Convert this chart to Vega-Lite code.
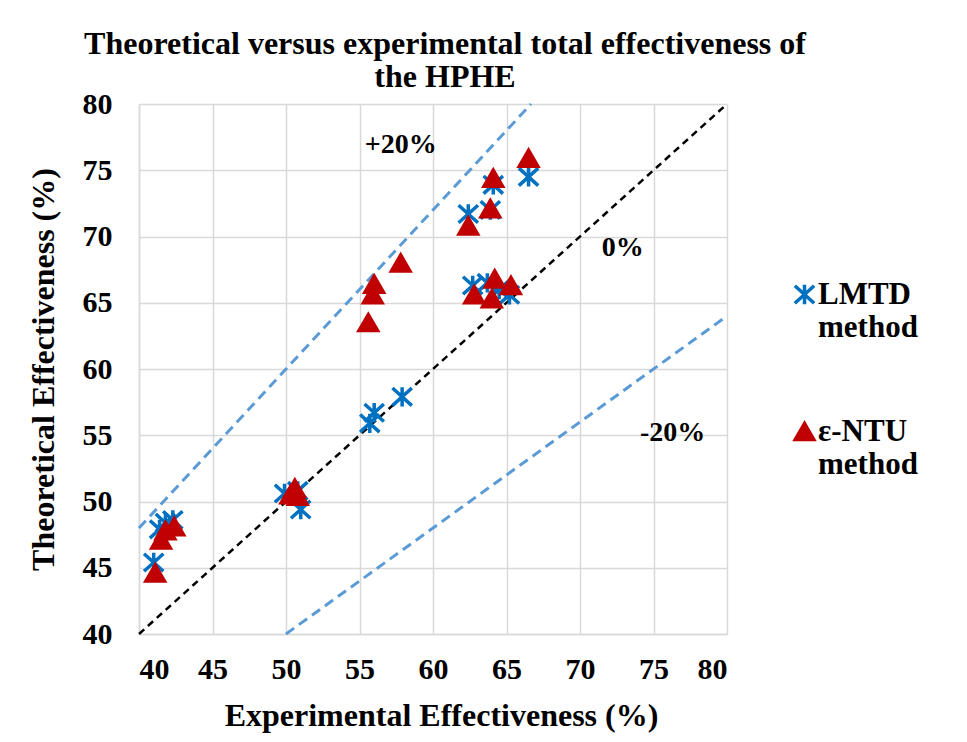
{
  "$schema": "https://vega.github.io/schema/vega-lite/v6.json",
  "autosize": "none",
  "width": 588,
  "height": 530,
  "padding": {"left": 139, "top": 104, "right": 240, "bottom": 108},
  "background": "white",
  "config": {
    "font": "Liberation Serif",
    "view": {"stroke": null},
    "axis": {
      "labelFont": "Liberation Serif",
      "labelFontWeight": "bold",
      "labelFontSize": 30,
      "labelColor": "black",
      "titleFont": "Liberation Serif",
      "titleFontWeight": "bold",
      "titleColor": "black",
      "gridColor": "#D9D9D9",
      "gridWidth": 1.5,
      "domainColor": "#D9D9D9",
      "domainWidth": 1.5,
      "ticks": false
    },
    "legend": {
      "labelFont": "Liberation Serif",
      "labelFontWeight": "bold",
      "labelFontSize": 31,
      "labelColor": "black",
      "labelLimit": 300
    }
  },
  "title": {
    "text": ["Theoretical versus experimental total effectiveness of", "the HPHE"],
    "font": "Liberation Serif",
    "fontSize": 32,
    "fontWeight": "bold",
    "color": "black",
    "anchor": "middle",
    "dx": 12,
    "offset": -5,
    "lineHeight": 33
  },
  "datasets": {
    "points": [
      {"exp": 41.0, "theo": 45.4, "method": "LMTD method"},
      {"exp": 41.4, "theo": 47.9, "method": "LMTD method"},
      {"exp": 41.8, "theo": 48.4, "method": "LMTD method"},
      {"exp": 42.3, "theo": 48.6, "method": "LMTD method"},
      {"exp": 49.9, "theo": 50.6, "method": "LMTD method"},
      {"exp": 50.8, "theo": 50.8, "method": "LMTD method"},
      {"exp": 51.0, "theo": 49.4, "method": "LMTD method"},
      {"exp": 55.7, "theo": 55.9, "method": "LMTD method"},
      {"exp": 56.0, "theo": 56.7, "method": "LMTD method"},
      {"exp": 57.9, "theo": 57.9, "method": "LMTD method"},
      {"exp": 62.4, "theo": 71.7, "method": "LMTD method"},
      {"exp": 63.9, "theo": 72.0, "method": "LMTD method"},
      {"exp": 64.1, "theo": 73.9, "method": "LMTD method"},
      {"exp": 66.5, "theo": 74.5, "method": "LMTD method"},
      {"exp": 62.7, "theo": 66.3, "method": "LMTD method"},
      {"exp": 63.7, "theo": 66.5, "method": "LMTD method"},
      {"exp": 64.5, "theo": 66.0, "method": "LMTD method"},
      {"exp": 65.2, "theo": 65.6, "method": "LMTD method"},
      {"exp": 41.1, "theo": 44.6, "method": "ε-NTU method"},
      {"exp": 41.5, "theo": 47.1, "method": "ε-NTU method"},
      {"exp": 41.8, "theo": 47.8, "method": "ε-NTU method"},
      {"exp": 42.4, "theo": 48.1, "method": "ε-NTU method"},
      {"exp": 50.3, "theo": 50.5, "method": "ε-NTU method"},
      {"exp": 50.6, "theo": 51.0, "method": "ε-NTU method"},
      {"exp": 50.8, "theo": 50.4, "method": "ε-NTU method"},
      {"exp": 55.6, "theo": 63.5, "method": "ε-NTU method"},
      {"exp": 55.9, "theo": 65.6, "method": "ε-NTU method"},
      {"exp": 56.0, "theo": 66.4, "method": "ε-NTU method"},
      {"exp": 57.8, "theo": 68.0, "method": "ε-NTU method"},
      {"exp": 62.4, "theo": 70.8, "method": "ε-NTU method"},
      {"exp": 63.9, "theo": 72.1, "method": "ε-NTU method"},
      {"exp": 64.1, "theo": 74.4, "method": "ε-NTU method"},
      {"exp": 66.5, "theo": 75.9, "method": "ε-NTU method"},
      {"exp": 62.8, "theo": 65.6, "method": "ε-NTU method"},
      {"exp": 64.0, "theo": 65.3, "method": "ε-NTU method"},
      {"exp": 64.2, "theo": 66.8, "method": "ε-NTU method"},
      {"exp": 65.3, "theo": 66.3, "method": "ε-NTU method"}
    ],
    "bands": [
      {"band": "+20%", "exp": 40, "theo": 48},
      {"band": "+20%", "exp": 66.667, "theo": 80},
      {"band": "-20%", "exp": 50, "theo": 40},
      {"band": "-20%", "exp": 80, "theo": 64}
    ],
    "parity": [
      {"exp": 40, "theo": 40},
      {"exp": 80, "theo": 80}
    ],
    "labels": [
      {"exp": 57.8, "theo": 76.9, "text": "+20%"},
      {"exp": 72.9, "theo": 69.1, "text": "0%"},
      {"exp": 76.3, "theo": 55.2, "text": "-20%"}
    ]
  },
  "layer": [
    {
      "data": {"name": "bands"},
      "mark": {"type": "line", "stroke": "#5B9BD5", "strokeWidth": 3, "strokeDash": [10, 6]},
      "encoding": {
        "x": {"field": "exp", "type": "quantitative", "scale": {"domain": [40, 80]},
              "axis": {"values": [40, 45, 50, 55, 60, 65, 70, 75, 80], "title": "Experimental Effectiveness (%)", "titleFontSize": 32, "titleX": 302, "labelPadding": 20, "titlePadding": 16}},
        "y": {"field": "theo", "type": "quantitative", "scale": {"domain": [40, 80]},
              "axis": {"values": [40, 45, 50, 55, 60, 65, 70, 75, 80], "title": "Theoretical Effectiveness (%)", "titleFontSize": 32, "labelPadding": 27, "titlePadding": 22}},
        "detail": {"field": "band"}
      }
    },
    {
      "data": {"name": "parity"},
      "mark": {"type": "line", "stroke": "black", "strokeWidth": 2.5, "strokeDash": [7, 5]},
      "encoding": {
        "x": {"field": "exp", "type": "quantitative"},
        "y": {"field": "theo", "type": "quantitative"}
      }
    },
    {
      "data": {"name": "points"},
      "mark": {"type": "point", "filled": true, "strokeWidth": 3.5, "opacity": 1},
      "encoding": {
        "x": {"field": "exp", "type": "quantitative"},
        "y": {"field": "theo", "type": "quantitative"},
        "shape": {"field": "method", "type": "nominal",
                  "scale": {"domain": ["LMTD method", "ε-NTU method"], "range": ["M-1.05,-0.95L1.05,0.95M-1.05,0.95L1.05,-0.95M0,-1.05L0,1.05", "triangle-up"]},
                  "legend": {"title": null, "orient": "none", "legendX": 650, "legendY": 175, "padding": 0, "rowPadding": 72, "symbolSize": 340, "symbolStrokeWidth": 3.5, "labelOffset": -2, "labelBaseline": "middle", "labelExpr": "split(datum.label, ' ')"}},
        "fill": {"field": "method", "type": "nominal",
                 "scale": {"domain": ["LMTD method", "ε-NTU method"], "range": ["#0070C0", "#C00000"]}},
        "stroke": {"field": "method", "type": "nominal",
                   "scale": {"domain": ["LMTD method", "ε-NTU method"], "range": ["#0070C0", "#C00000"]}},
        "size": {"value": 340}
      }
    },
    {
      "data": {"name": "labels"},
      "mark": {"type": "text", "font": "Liberation Serif", "fontWeight": "bold", "fontSize": 28, "color": "black", "align": "center", "baseline": "middle"},
      "encoding": {
        "x": {"field": "exp", "type": "quantitative"},
        "y": {"field": "theo", "type": "quantitative"},
        "text": {"field": "text"}
      }
    }
  ]
}
